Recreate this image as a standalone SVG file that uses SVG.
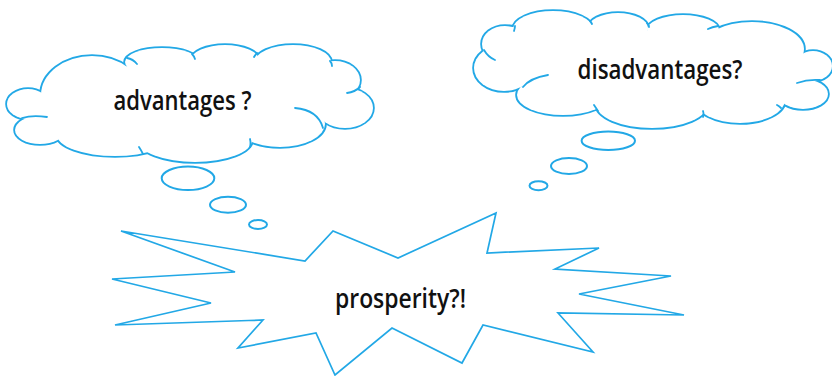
<svg xmlns="http://www.w3.org/2000/svg" xmlns:xlink="http://www.w3.org/1999/xlink" width="832" height="376" viewBox="0 0 832 376">
<style>
.ls{fill:#fff;stroke:#22a8e6;stroke-width:3.6}
.lf{fill:#fff;stroke:none}
.tick{fill:none;stroke:#22a8e6;stroke-width:1.8;stroke-linecap:round}
.bub{fill:#fff;stroke:#22a8e6;stroke-width:2}
.burst{fill:#fff;stroke:#22a8e6;stroke-width:1.7;stroke-linejoin:miter}
.lbl{font-family:"Open Sans","Liberation Sans",sans-serif;font-size:27px;font-weight:600;fill:#111}
</style>
<defs>
<g id="lobesL">
<ellipse cx="28" cy="104" rx="21" ry="15"/>
<ellipse cx="92" cy="95" rx="51" ry="39"/>
<ellipse cx="162" cy="62" rx="37" ry="14"/>
<ellipse cx="225" cy="60" rx="34" ry="15"/>
<ellipse cx="293" cy="62" rx="38" ry="17"/>
<ellipse cx="335" cy="80" rx="25" ry="19"/>
<ellipse cx="345" cy="108" rx="28" ry="20"/>
<ellipse cx="280" cy="124" rx="45" ry="23"/>
<ellipse cx="195" cy="140" rx="57" ry="22"/>
<ellipse cx="115" cy="135" rx="58" ry="21"/>
<ellipse cx="40" cy="130" rx="25" ry="14"/>
</g>
<g id="lobesR">
<ellipse cx="504" cy="68" rx="30" ry="23"/>
<ellipse cx="505" cy="44" rx="23" ry="18"/>
<ellipse cx="553" cy="29" rx="40" ry="18"/>
<ellipse cx="618" cy="28" rx="30" ry="15"/>
<ellipse cx="683" cy="30" rx="36" ry="15"/>
<ellipse cx="752" cy="49" rx="52" ry="27"/>
<ellipse cx="813" cy="66" rx="19" ry="15"/>
<ellipse cx="803" cy="94" rx="25" ry="15"/>
<ellipse cx="740" cy="100" rx="45" ry="23"/>
<ellipse cx="652" cy="104" rx="56" ry="24"/>
<ellipse cx="563" cy="95" rx="46" ry="20"/>
</g>
</defs>

<g id="node-advantages">
<use xlink:href="#lobesL" href="#lobesL" class="ls"/>
<use xlink:href="#lobesL" href="#lobesL" class="lf"/>
<polygon class="lf" points="46,92 128,66 193,60 257,60 328,65 352,92 319,124 250,139 148,148 61,136 29,117"/>
<path class="tick" d="M127,58 Q133,59 137,64 M192,54 Q194,56 195,59 M257,53 Q255,55 254,57 M330,61 Q332,63 332,66 M360,87 Q355,92 347,93 M295,108 Q318,110 323,128 M250,139 Q251,143 250,147 M139,147 Q141,150 143,154 M22,118 Q32,115 47,117"/>
<text class="lbl" x="113.5" y="110" textLength="138" lengthAdjust="spacingAndGlyphs">advantages ?</text>
</g>

<g id="node-disadvantages">
<use xlink:href="#lobesR" href="#lobesR" class="ls"/>
<use xlink:href="#lobesR" href="#lobesR" class="lf"/>
<polygon class="lf" points="488,53 514,32 590,26 648,31 718,32 800,56 812,80 781,101 703,110 598,105 524,86"/>
<path class="tick" d="M484,50 Q488,57 495,60 M515,26 Q515,28 514,31 M590,21 Q591,22 592,24 M647,23 Q649,25 649,27 M718,26 Q712,27 708,29 M820,80 Q808,79 797,83 M781,108 Q779,106 777,105 M703,117 Q704,114 703,111 M594,105 Q596,108 598,111 M548,75 Q530,78 523,87"/>
<text class="lbl" x="577.5" y="78.5" textLength="165" lengthAdjust="spacingAndGlyphs">disadvantages?</text>
</g>

<g id="node-prosperity">
<polygon class="burst" points="121,231 235,272 112,279 211,303 115,325 263,320 238,348 316,333 335,375 392,328 462,363 483,325 593,352 558,313 684,315 579,294 671,276 555,269 599,248 487,253 496,213 398,258 333,231 305,261"/>
<text class="lbl" x="335" y="307.5" textLength="131" lengthAdjust="spacingAndGlyphs">prosperity?!</text>
</g>

<g id="connectors">
<ellipse class="bub" cx="188" cy="178.3" rx="26.3" ry="11.7"/>
<ellipse class="bub" cx="228" cy="204.7" rx="18" ry="8"/>
<ellipse class="bub" cx="258" cy="224.5" rx="9" ry="4.5"/>
<ellipse class="bub" cx="608.3" cy="140.8" rx="26.7" ry="9.2"/>
<ellipse class="bub" cx="569" cy="166" rx="18" ry="8"/>
<ellipse class="bub" cx="538.5" cy="185.7" rx="9" ry="4.5"/>
</g>
</svg>
